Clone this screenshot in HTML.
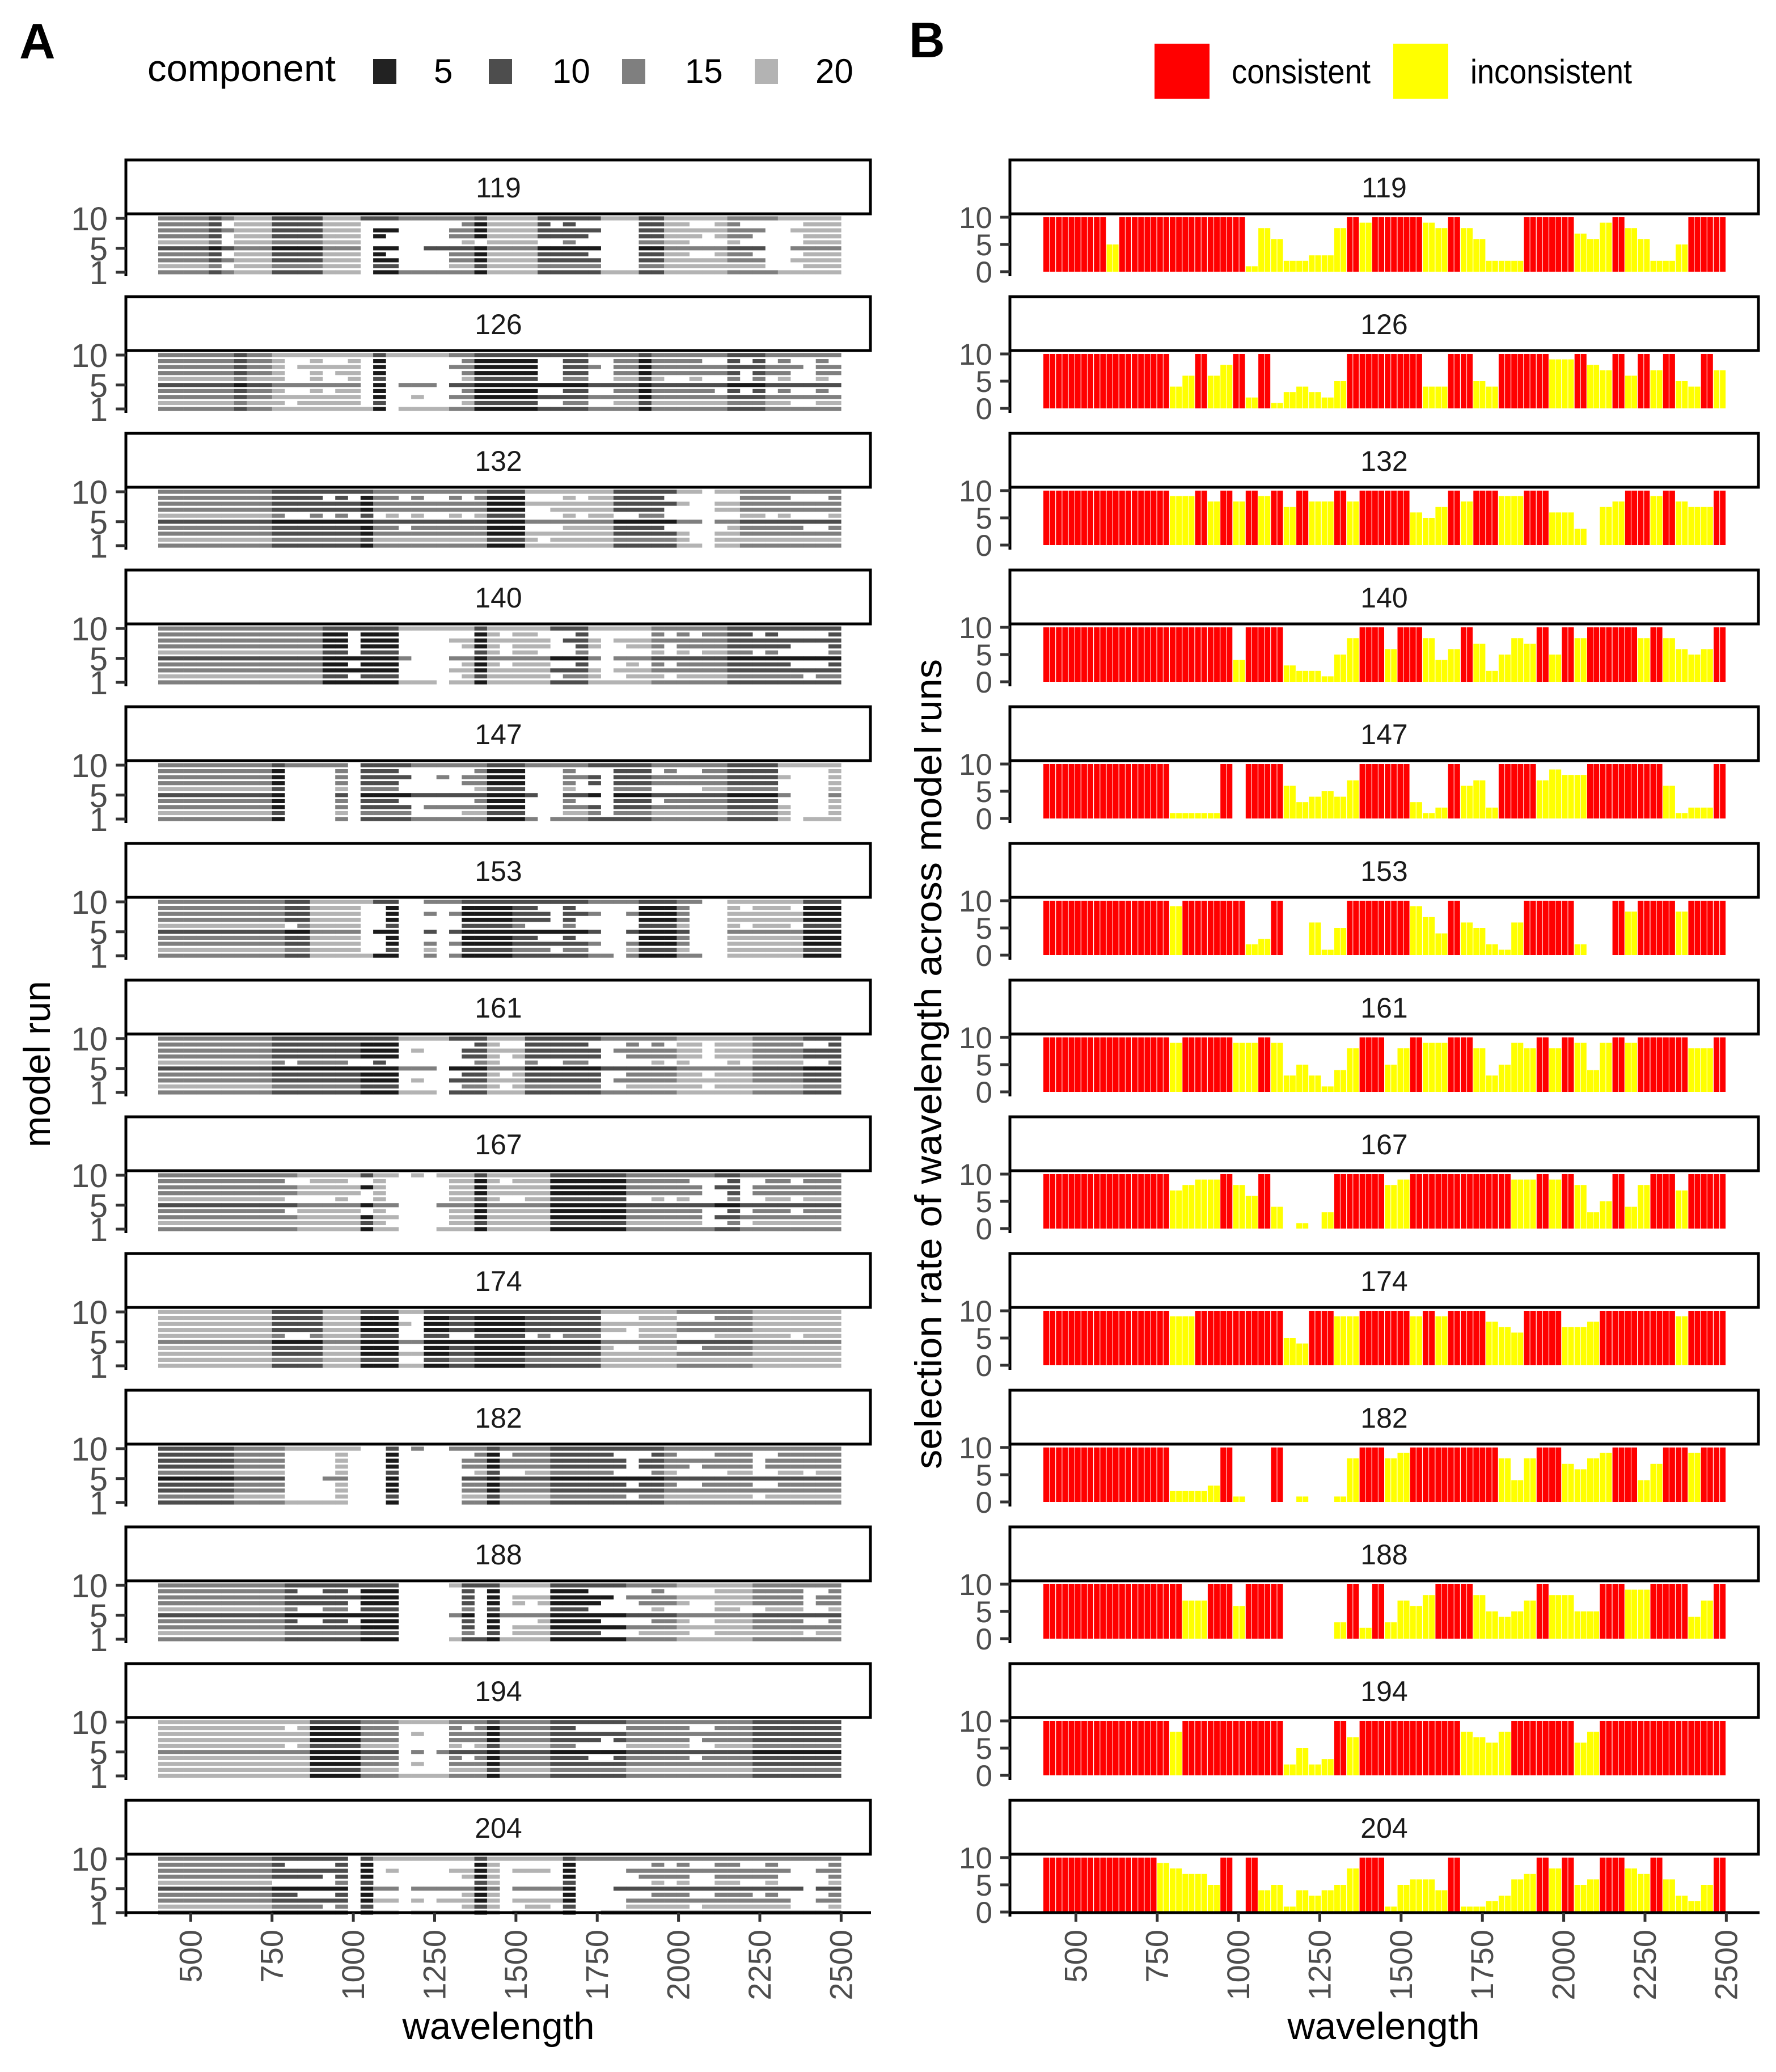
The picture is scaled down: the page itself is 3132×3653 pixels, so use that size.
<!DOCTYPE html>
<html><head><meta charset="utf-8"><style>
html,body{margin:0;padding:0;background:#fff;}
svg{display:block;}
text{font-family:"Liberation Sans",sans-serif;}
</style></head><body>
<svg id="chart" xmlns="http://www.w3.org/2000/svg" width="3132" height="3653" viewBox="0 0 3132 3653">
<rect x="0" y="0" width="3132" height="3653" fill="#fff"/>
<text x="34" y="103" font-size="88" font-weight="bold" fill="#000">A</text>
<text x="1603" y="101" font-size="88" font-weight="bold" fill="#000">B</text>
<g>
<text x="260" y="143" font-size="66" textLength="332" lengthAdjust="spacingAndGlyphs" fill="#000">component</text>
<rect x="658" y="104" width="41" height="44" fill="#222"/>
<text x="765" y="146" font-size="60" fill="#000">5</text>
<rect x="862" y="104" width="41" height="44" fill="#4d4d4d"/>
<text x="974" y="146" font-size="60" fill="#000">10</text>
<rect x="1097" y="104" width="41" height="44" fill="#7f7f7f"/>
<text x="1208" y="146" font-size="60" fill="#000">15</text>
<rect x="1331" y="104" width="41" height="44" fill="#b3b3b3"/>
<text x="1438" y="146" font-size="60" fill="#000">20</text>
</g>
<g>
<rect x="2036" y="77" width="97" height="97" fill="#ff0000"/>
<text x="2172" y="147" font-size="60" textLength="245" lengthAdjust="spacingAndGlyphs" fill="#000">consistent</text>
<rect x="2457" y="77" width="97" height="97" fill="#ffff00"/>
<text x="2593" y="147" font-size="60" textLength="285" lengthAdjust="spacingAndGlyphs" fill="#000">inconsistent</text>
</g>
<text transform="translate(88,1876) rotate(-90)" text-anchor="middle" font-size="66" fill="#000">model run</text>
<text transform="translate(1660,1876) rotate(-90)" text-anchor="middle" font-size="66" textLength="1428" lengthAdjust="spacingAndGlyphs" fill="#000">selection rate of wavelength across model runs</text>
<text x="879" y="3595" text-anchor="middle" font-size="67" fill="#000">wavelength</text>
<text x="2440" y="3595" text-anchor="middle" font-size="67" fill="#000">wavelength</text>
<g id="gA"></g>
<g id="gB"></g>
</svg>
<script>
const facets = ["119","126","132","140","147","153","161","167","174","182","188","194","204"];
// selection rate per wavelength bin: 'R' = consistent (10 of 10), digit = inconsistent count
const rateStr = [
"RRRRR5RRRRRRRRRR18622338R9RRRR98R86222RRRR769R86225RRR",
"RRRRRRRRRR46R68R2R134325RRRRRR44RR54RRRR99R87R6R7R54R7",
"RRRRRRRRRR99R8R8R9R7R88R8RRRR657R8RR99RR663078RR9R877R",
"RRRRRRRRRRRRRRR4RRR322158RR6RR846R72587R5R8RRRR8R8656R",
"RRRRRRRRRR1111R0RRR634547RRRR312R672RRR7988RRRRRR6122R",
"RRRRRRRRRR9RRRRR23R00615RRRRR974R65216RRRR200R8RRR8RRR",
"RRRRRRRRRR9RRRR99R9353148RR58R99RR83598R8R949R9RRRR88R",
"RRRRRRRRRR7899R86R40103RRRR89RRRRRRRR99R9R835R48RR7RRR",
"RRRRRRRRRR99RRRRRRR54RR99RRRR9R9RRR876RRR778RRRRRR9RRR",
"RRRRRRRRRR2223R100R010018RR89RRRRRRR848RR7689RR47RR9RR",
"RRRRRRRRRRR77RR6RRR00003R2R3768RRR85457R8855RR99RRR47R",
"RRRRRRRRRR8RRRRRRRR2523R7RRRRRRRR8768RRRRR68RRRRRRRRRR",
"RRRRRRRRR98775R0R45143458RR15664R112367R8R56RR87R6325R"
];
// component shade per bin: 1 = few components (dark) ... 4 = many (light)
const shadeStr = [
"333323444222244411133333314444222224442244444333344444",
"333333233444444441444443311111222233331333333222333333",
"333333333222222213333333331114444444222224444433333333",
"333333333333311111144444414444422244444333333222222222",
"333333333133333222223333331113333322222333333222244444",
"333333333322444441133333111122222233331113333444444111",
"333333333222222211144442224442222223333334444443333222",
"333333333334444414444444414444411111133333332233333333",
"444444444222244411144112211112222224444443333334444444",
"222222333344444444133333331333322222222233333333333333",
"333333333322222211144444221444411111133334444443333333",
"444444444444111133344443331333322222233333333332222222",
"333333333222222214444444414444441333333333333333333333"
];
const xTicks = [500,750,1000,1250,1500,1750,2000,2250,2500];
const yTicksA = [1,5,10];
const yTicksB = [0,5,10];

const NS="http://www.w3.org/2000/svg";
const WL0=400, WL1=2500, NB=54, BINW=(WL1-WL0)/NB, PX=0.5735;
const greys={1:"#1a1a1a",2:"#4d4d4d",3:"#7f7f7f",4:"#b3b3b3"};
const rowOrder=[10,1,5,3,8,2,7,4,9,6];
function xA(w){return 279+(w-WL0)*PX;}
function xB(w){return 1840+(w-WL0)*PX;}
function S(k){return 280+241*k;}
function yB(v,k){return S(k)+199-v*9.6;}
function yRow(r,k){return S(k)+200-(r-1)*10.55;}
function mk(tag,attrs,parent,txt){const e=document.createElementNS(NS,tag);for(const a in attrs)e.setAttribute(a,attrs[a]);if(txt!==undefined)e.textContent=txt;parent.appendChild(e);return e;}
const gA=document.getElementById('gA'), gB=document.getElementById('gB');

facets.forEach((f,k)=>{
  const s=S(k);
  const sa=mk('rect',{x:222,y:s+2,width:1313,height:95,fill:'#fff',stroke:'#000','stroke-width':5},gA);
  
  
  const ta=mk('text',{x:879,y:s+68,'text-anchor':'middle','font-size':50,fill:'#1a1a1a'},gA,f);
  
  
  const sb=mk('rect',{x:1781,y:s+2,width:1320,height:95,fill:'#fff',stroke:'#000','stroke-width':5},gB);
  
  
  const tb=mk('text',{x:2441,y:s+68,'text-anchor':'middle','font-size':50,fill:'#1a1a1a'},gB,f);
  
  
  const rs=rateStr[k], ss=shadeStr[k];
  for(let i=0;i<rs.length;i++){
    const c=rs[i]; const wl=WL0+i*BINW;
    const val=c==='R'?10:+c;
    if(val<=0) continue;
    const bx=xB(wl), bw=BINW*PX-1.2;
    const bar=mk('rect',{x:bx.toFixed(1),y:yB(val,k).toFixed(1),width:bw.toFixed(1),height:(val*9.6).toFixed(1),fill:c==='R'?'#ff0000':'#ffff00'},gB);
    
    
    const mx=bx+bw/2;
    mk('line',{x1:mx.toFixed(1),x2:mx.toFixed(1),y1:yB(val,k).toFixed(1),y2:yB(0,k).toFixed(1),stroke:'#fff','stroke-width':1.2,'stroke-opacity':0.8},gB);
    const sh=+(ss[i]||3);
    rowOrder.slice(0,val).forEach(r=>{
      let g=sh+(r%4===2?1:0)-(r%5===0&&sh>1?1:0); if(g>4)g=4; if(g<1)g=1;
      const cell=mk('rect',{x:xA(wl).toFixed(1),y:(yRow(r,k)-3.6).toFixed(1),width:(BINW*PX+0.3).toFixed(1),height:7.2,fill:greys[g]},gA);
      
      
    });
  }
  mk('line',{x1:222,x2:222,y1:s+97,y2:s+207,stroke:'#000','stroke-width':5},gA);
  mk('line',{x1:1781,x2:1781,y1:s+97,y2:s+207,stroke:'#000','stroke-width':5},gB);
  yTicksA.forEach(v=>{
    const y=yRow(v,k);
    mk('line',{x1:204,x2:222,y1:y,y2:y,stroke:'#333','stroke-width':5},gA);
    const t=mk('text',{x:190,y:y+21,'text-anchor':'end','font-size':58,fill:'#4d4d4d'},gA,String(v));
    
    
  });
  yTicksB.forEach(v=>{
    const y=yB(v,k);
    mk('line',{x1:1764,x2:1781,y1:y,y2:y,stroke:'#333','stroke-width':5},gB);
    const t=mk('text',{x:1750,y:y+19,'text-anchor':'end','font-size':53,fill:'#4d4d4d'},gB,String(v));
    
    
  });
});
const axA=mk('line',{x1:220,x2:1536,y1:3372,y2:3372,stroke:'#000','stroke-width':5},gA);


const axB=mk('line',{x1:1779,x2:3103,y1:3372,y2:3372,stroke:'#000','stroke-width':5},gB);


xTicks.forEach(w=>{
  [[xA(w),gA,'a'],[xB(w),gB,'b']].forEach(([x,g,p])=>{
    mk('line',{x1:x,x2:x,y1:3372,y2:3388,stroke:'#333','stroke-width':5},g);
    const t=mk('text',{transform:'translate('+(x+19)+',3402) rotate(-90)','text-anchor':'end','font-size':56,fill:'#4d4d4d'},g,String(w));
    
    
  });
});
</script>
</body></html>
